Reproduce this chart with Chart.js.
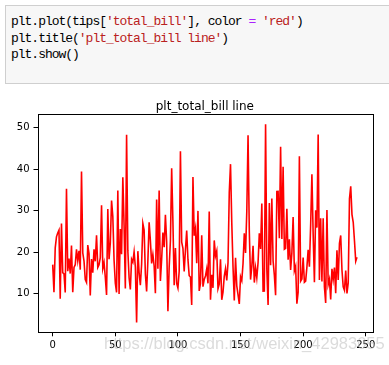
<!DOCTYPE html>
<html>
<head>
<meta charset="utf-8">
<script src="https://cdn.jsdelivr.net/npm/chart.js@4/dist/chart.umd.min.js"></script>
<style>
  html, body { margin:0; padding:0; background:#fff; }
  #wrap { position:relative; width:389px; height:365px; overflow:hidden; }
  #chart { position:absolute; left:0; top:0; }
  #code { position:absolute; left:5px; top:5px; width:400px; height:79px; background:#f7f7f7;
          border:1px solid #cfcfcf; box-sizing:border-box; }
  #code pre { margin:0; position:absolute; left:5px; top:8px; font-family:"Liberation Mono", monospace;
          font-size:13px; letter-spacing:-1.02px; line-height:16.7px; color:#000; }
  .s { color:#ba2121; } .o { color:#aa22ff; }
  #wm { position:absolute; left:104px; top:334px; font-family:"Liberation Sans", Arial, sans-serif;
        font-size:16.5px; color:rgba(190,190,190,0.55); white-space:nowrap; }
</style>
</head>
<body>
<div id="wrap">
  <canvas id="chart" width="389" height="365"></canvas>
  <div id="code"><pre>plt.plot(tips[<span class="s">'total_bill'</span>], color <span class="o">=</span> <span class="s">'red'</span>)
plt.title(<span class="s">'plt_total_bill line'</span>)
plt.show()</pre></div>
  <div id="wm">https://blog.csdn.net/weixin_42983055</div>
</div>
<script>
const totalBill = [16.99,10.34,21.01,23.68,24.59,25.29,8.77,26.88,15.04,14.78,10.27,35.26,15.42,18.43,14.83,21.58,10.33,16.29,16.97,20.65,17.92,20.29,15.77,39.42,19.82,17.81,13.37,12.69,21.70,19.65,9.55,18.35,15.06,20.69,17.78,24.06,16.31,16.93,18.69,31.27,16.04,17.46,13.94,9.68,30.40,18.29,22.23,32.40,28.55,18.04,12.54,10.29,34.81,9.94,25.56,19.49,38.01,26.41,11.24,48.27,20.29,13.81,11.02,18.29,17.59,20.08,16.45,3.07,20.23,15.01,12.02,17.07,26.86,25.28,14.73,10.51,17.92,27.20,22.76,17.29,19.44,16.66,10.07,32.68,15.98,34.83,13.03,18.28,24.71,21.16,28.97,22.49,5.75,16.32,22.75,40.17,27.28,12.03,21.01,12.46,11.35,15.38,44.30,22.42,20.92,15.36,20.49,25.21,18.24,14.31,14.00,7.25,38.07,23.95,25.71,17.31,29.93,10.65,12.43,24.08,11.69,13.42,14.26,15.95,12.48,29.80,8.52,14.52,11.38,22.82,19.08,20.27,11.17,12.26,18.26,8.51,10.33,14.15,16.00,13.16,17.47,34.30,41.19,27.05,16.43,8.35,18.64,11.87,9.78,7.51,14.07,13.13,17.26,24.55,19.77,29.85,48.17,25.00,13.39,16.49,21.50,12.66,16.21,13.81,17.51,24.52,20.76,31.71,10.59,10.63,50.81,15.81,7.25,31.85,16.82,32.90,17.89,14.48,9.60,34.63,34.65,23.33,45.35,23.17,40.55,20.69,20.90,30.46,18.15,23.10,15.69,19.81,28.44,15.48,16.58,7.56,10.34,43.11,13.00,13.51,18.71,12.74,13.00,16.40,20.53,16.47,26.59,38.73,24.27,12.76,30.06,25.89,48.33,13.27,28.17,12.90,28.15,11.59,7.74,30.14,12.16,13.42,8.58,15.98,13.42,16.27,10.09,20.45,13.28,22.12,24.01,15.69,11.61,10.77,15.53,10.07,12.60,32.83,35.83,29.03,27.18,22.67,17.82,18.78];
const xTicks = [0, 50, 100, 150, 200, 250];
const yTicks = [10, 20, 30, 40, 50];
const titleText = 'plt_total_bill line';

const points = totalBill.map((v, i) => ({x: i, y: v}));
const n = totalBill.length;
const xMin = -0.05 * (n - 1), xMax = (n - 1) * 1.05;
const lo = Math.min(...totalBill), hi = Math.max(...totalBill);
const yMin = lo - 0.05 * (hi - lo), yMax = hi + 0.05 * (hi - lo);

const frame = {
  id: 'frame',
  afterDatasetsDraw(chart) {
    const a = chart.chartArea, c = chart.ctx;
    c.save();
    c.strokeStyle = '#000'; c.lineWidth = 1;
    c.strokeRect(Math.round(a.left) + 0.5, Math.round(a.top) + 0.5,
                 Math.round(a.right - a.left), Math.round(a.bottom - a.top));
    c.fillStyle = '#000';
    c.font = '12px "DejaVu Sans"';
    c.textAlign = 'center'; c.textBaseline = 'alphabetic';
    c.fillText(titleText, (a.left + a.right) / 2, a.top - 4.5);
    c.restore();
  }
};

Chart.defaults.font.family = 'DejaVu Sans';
new Chart(document.getElementById('chart'), {
  type: 'line',
  data: { datasets: [{ data: points, borderColor: '#ff0000', borderWidth: 1.6,
           pointRadius: 0, tension: 0, fill: false }] },
  options: {
    responsive: false, animation: false, devicePixelRatio: 1,
    layout: { padding: { left: 0, right: 16.8, top: 114.3, bottom: 0 } },
    plugins: {
      legend: { display: false }, tooltip: { enabled: false }, title: { display: false }
    },
    scales: {
      x: { type: 'linear', min: xMin, max: xMax,
           afterBuildTicks: s => { s.ticks = xTicks.map(v => ({value: v})); },
           afterFit: s => { s.height = 32.7; },
           grid: { drawOnChartArea: false, drawTicks: true, tickLength: 4, color: '#000' },
           border: { display: false },
           ticks: { color: '#000', font: { size: 10 }, padding: 3, maxRotation: 0 } },
      y: { type: 'linear', min: yMin, max: yMax,
           afterBuildTicks: s => { s.ticks = yTicks.map(v => ({value: v})); },
           afterFit: s => { s.width = 37.5; },
           grid: { drawOnChartArea: false, drawTicks: true, tickLength: 4, color: '#000' },
           border: { display: false },
           ticks: { color: '#000', font: { size: 10 }, padding: 4 } }
    }
  },
  plugins: [frame]
});
</script>
</body>
</html>
